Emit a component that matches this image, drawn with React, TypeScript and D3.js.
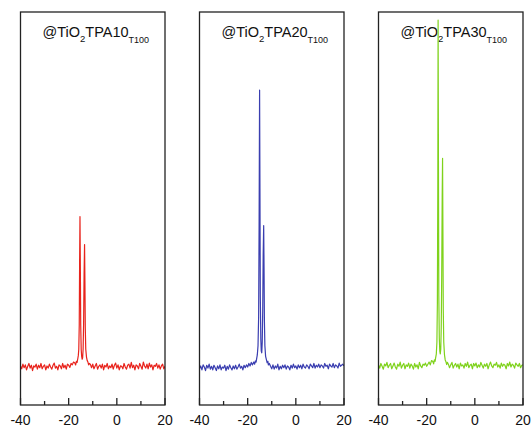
import React, { useEffect, useRef } from "react";
import * as d3 from "d3";

// sample labels + colours, one per panel
const sampleNames = ["10", "20", "30"];
const lineColors = ["#e8231c", "#3a3eb0", "#7fd21c"];

// baseline noise, read on a 0.5 ppm grid from -40 to 20
const gridStart = -40;
const gridStep = 0.5;
const noise10 = [
  0.3, -0.5, 0.8, -0.2, 0.6, -0.8, 0.2, 1.0, -0.3, 0.5,
  -1.0, 0.3, 0.0, 0.8, -0.6, 0.5, -0.2, 1.0, -0.5, 0.2,
  0.6, -0.8, 0.3, -0.3, 0.8, 0.0, -0.6, 0.5, 1.1, -0.3,
  0.2, -0.8, 0.6, 0.3, -0.5, 1.0, -0.2, 0.5, -0.6, 0.8,
  0.5, -0.1, 1.0, 0.6, 1.4, 1.0, 0, 0, 0, 0,
  0, 0, 0, 0, 0, 0, 0, 0, 0.8, -0.2,
  0.8, -0.5, 0.3, 1.0, -0.6, 0.2, 0.6, -0.3, 0.8, -0.8,
  0.5, 0.0, 1.0, -0.5, 0.3, -0.2, 0.8, -0.6, 0.5, 1.1,
  -0.3, 0.6, -0.8, 0.3, 0.2, -0.5, 1.0, 0.0, -0.6, 0.5,
  0.8, -0.3, 1.3, -0.2, 0.5, -0.8, 0.6, 0.3, -0.5, 1.0,
  0.2, -0.6, 1.4, 0.3, -0.3, 0.8, -0.5, 1.1, 0.0, 0.6,
  -0.8, 0.5, 0.2, 1.0, -0.3, 0.6, -0.6, 0.3, 0.8, -0.5,
  0.2,
];
const noise20 = [
  -0.5, 0.3, -0.8, 0.6, 0.0, -1.0, 0.5, -0.3, 0.8, -0.6,
  0.2, -0.8, 0.5, -0.2, -1.0, 0.3, -0.5, 0.6, -0.8, 0.0,
  -0.3, 0.5, -1.0, 0.2, -0.6, 0.6, -0.2, -0.8, 0.3, -0.5,
  0.5, -0.6, 0.0, 0.8, -0.3, 0.2, -0.8, 0.5, -0.2, 0.6,
  0.0, 1.0, 0.3, 1.3, 0.6, 1.5, 0, 0, 0, 0,
  0, 0, 0, 0, 0, 0, 0, 0, 1.0, 0.2,
  -0.5, 0.6, -0.6, 0.3, -0.3, 0.8, -0.8, 0.2, -0.5, 0.5,
  -0.2, 0.6, -0.6, 0.3, 0.0, -0.8, 0.5, -0.3, 0.8, -0.2,
  0.3, -0.6, 0.6, -0.2, 0.5, -0.5, 0.8, 0.0, -0.3, 0.6,
  0.2, -0.5, 0.8, 0.3, -0.2, 1.0, -0.3, 0.5, 0.0, 0.8,
  -0.2, 0.6, 0.3, -0.3, 1.0, 0.2, 0.5, -0.5, 0.8, 0.3,
  0.0, 1.0, -0.2, 0.6, 0.3, -0.3, 1.1, 0.2, 0.5, 0.8,
  0.3,
];
const noise30 = [
  0.6, -0.3, 1.0, 0.2, -0.6, 0.8, 0.3, 1.3, -0.2, 0.5,
  1.0, -0.5, 0.3, 1.1, 0.0, -0.6, 0.8, 0.2, 1.4, -0.3,
  0.5, 1.0, -0.5, 0.6, 0.2, 1.1, -0.3, 0.8, 0.3, -0.6,
  1.0, 0.0, 0.6, -0.5, 1.3, 0.3, -0.2, 0.8, 0.5, 1.1,
  0.2, 0.8, 1.4, 0.6, 1.8, 1.3, 0, 0, 0, 0,
  0, 0, 0, 0, 0, 0, 0, 0, 0.8, -0.2,
  0.6, 1.3, -0.3, 0.5, 1.0, 0.0, 0.8, -0.5, 1.1, 0.3,
  0.6, -0.3, 1.0, 0.2, 1.4, -0.2, 0.5, 0.8, -0.5, 1.0,
  0.3, 1.1, -0.2, 0.6, 0.0, 1.3, 0.5, -0.3, 0.8, 0.2,
  1.0, -0.5, 0.6, 1.4, 0.3, -0.2, 0.8, 0.5, 1.3, 0.0,
  0.6, -0.3, 1.1, 0.2, 0.8, 0.5, -0.5, 1.0, 0.3, 1.4,
  0.0, 0.8, 0.5, -0.3, 1.1, 0.6, 0.2, 1.0, -0.2, 0.5,
  0.6,
];

// the doublet region, [ppm, intensity]
const peak10: [number, number][] = [
  [-17.5, 1.2], [-17.1, 0.6], [-16.8, 1.6], [-16.5, 1.3], [-16.2, 2.4],
  [-16.0, 3.2], [-15.8, 5], [-15.6, 12], [-15.45, 30], [-15.3, 42.4],
  [-15.15, 28], [-15.0, 12], [-14.8, 5], [-14.6, 3], [-14.4, 2.2],
  [-14.2, 2.6], [-14.0, 5], [-13.8, 12], [-13.6, 26], [-13.4, 34.5],
  [-13.25, 24], [-13.1, 11], [-12.9, 5], [-12.6, 2.8], [-12.3, 1.8],
  [-12.0, 1.4], [-11.7, 0.6], [-11.4, 1.0],
];
const peak20: [number, number][] = [
  [-17.5, 1.4], [-17.1, 0.8], [-16.8, 1.7], [-16.5, 1.4], [-16.3, 2.2],
  [-16.0, 3.4], [-15.7, 6], [-15.45, 14], [-15.25, 40], [-15.05, 78],
  [-14.9, 50], [-14.75, 20], [-14.55, 8], [-14.35, 4.5], [-14.15, 4],
  [-13.95, 7], [-13.75, 16], [-13.55, 32], [-13.35, 39.8], [-13.2, 28],
  [-13.05, 13], [-12.85, 6], [-12.55, 3], [-12.2, 2.0], [-11.9, 1.2],
  [-11.6, 1.6], [-11.4, 0.6],
];
const peak30: [number, number][] = [
  [-17.5, 1.6], [-17.1, 0.9], [-16.8, 2.0], [-16.5, 1.6], [-16.3, 2.5],
  [-16.0, 3.6], [-15.75, 7], [-15.55, 18], [-15.38, 50], [-15.25, 97.7],
  [-15.1, 55], [-14.95, 20], [-14.75, 8], [-14.55, 4.5], [-14.35, 3.7],
  [-14.15, 5], [-13.95, 11], [-13.75, 26], [-13.55, 48], [-13.4, 58.8],
  [-13.25, 38], [-13.1, 16], [-12.9, 7], [-12.6, 3.4], [-12.3, 2.0],
  [-12.0, 1.5], [-11.7, 0.7], [-11.4, 1.3],
];

const noiseList = [noise10, noise20, noise30];
const peakList = [peak10, peak20, peak30];
const majorTicks = [-40, -20, 0, 20];
const minorTicks = [-30, -10, 10];

const width = 532;
const height = 428;
const panelLeft = [20.5, 199.5, 378.5];
const panelWidth = 144.5;
const plotTop = 12;
const plotBottom = 405;
const font = "'Liberation Sans', Arial, sans-serif";

export default function App() {
  const ref = useRef<SVGSVGElement>(null);

  useEffect(() => {
    const svg = d3.select(ref.current);
    svg.selectAll("*").remove();

    const y = d3.scaleLinear().domain([-10.7, 100]).range([plotBottom, plotTop]);

    panelLeft.forEach((left, i) => {
      const x = d3.scaleLinear().domain([-40, 20]).range([left, left + panelWidth]);
      const peak = peakList[i];
      const lo = peak[0][0];
      const hi = peak[peak.length - 1][0];

      let pts: [number, number][] = noiseList[i]
        .map((v, k) => [gridStart + k * gridStep, v] as [number, number])
        .filter((d) => d[0] < lo || d[0] > hi);
      pts = pts.concat(peak).sort((a, b) => a[0] - b[0]);

      const g = svg.append("g");

      g.append("clipPath")
        .attr("id", "clip" + i)
        .append("rect")
        .attr("x", left)
        .attr("y", plotTop)
        .attr("width", panelWidth)
        .attr("height", plotBottom - plotTop);

      // title
      const t = g
        .append("text")
        .attr("x", left + panelWidth / 2 + 3)
        .attr("y", 37)
        .attr("text-anchor", "middle")
        .attr("font-family", font)
        .attr("font-size", 14.5)
        .attr("fill", "#111");
      t.append("tspan").text("@TiO");
      t.append("tspan").attr("dy", 5).attr("font-size", 9.5).text("2");
      t.append("tspan").attr("dy", -5).text("TPA" + sampleNames[i]);
      t.append("tspan").attr("dy", 6).attr("font-size", 9).text("T100");

      const line = d3
        .line<[number, number]>()
        .x((d) => x(d[0]))
        .y((d) => y(d[1]));

      g.append("path")
        .datum(pts)
        .attr("clip-path", `url(#clip${i})`)
        .attr("fill", "none")
        .attr("stroke", lineColors[i])
        .attr("stroke-width", 1.2)
        .attr("stroke-linejoin", "round")
        .attr("d", line);

      // ticks point inward from the bottom edge
      g.selectAll(".major")
        .data(majorTicks)
        .join("line")
        .attr("x1", (d) => x(d))
        .attr("x2", (d) => x(d))
        .attr("y1", plotBottom)
        .attr("y2", plotBottom - 7)
        .attr("stroke", "#222")
        .attr("stroke-width", 1.3);

      g.selectAll(".minor")
        .data(minorTicks)
        .join("line")
        .attr("x1", (d) => x(d))
        .attr("x2", (d) => x(d))
        .attr("y1", plotBottom)
        .attr("y2", plotBottom - 4)
        .attr("stroke", "#222")
        .attr("stroke-width", 1.3);

      g.selectAll(".lbl")
        .data(majorTicks)
        .join("text")
        .attr("x", (d) => x(d))
        .attr("y", 425)
        .attr("text-anchor", "middle")
        .attr("font-family", font)
        .attr("font-size", 14)
        .attr("fill", "#111")
        .text((d) => (d < 0 ? "-" + Math.abs(d) : String(d)));

      g.append("rect")
        .attr("x", left)
        .attr("y", plotTop)
        .attr("width", panelWidth)
        .attr("height", plotBottom - plotTop)
        .attr("fill", "none")
        .attr("stroke", "#222")
        .attr("stroke-width", 1.3);
    });
  }, []);

  return (
    <svg
      ref={ref}
      width={width}
      height={height}
      style={{ position: "absolute", left: 0, top: 0, background: "#fff" }}
    />
  );
}
